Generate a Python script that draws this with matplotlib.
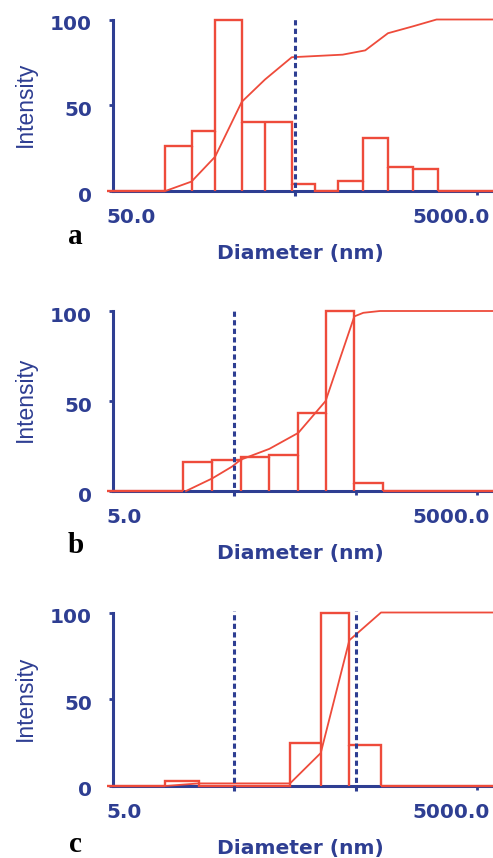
import numpy as np
import matplotlib.pyplot as plt
from matplotlib.transforms import ScaledTranslation

W, H = 493, 858
RED = "#ee4b3b"
BLUE = "#2e3e92"

# panel a: histogram bins (nm), intensities, cumulative curve
a_edges = [97, 136, 182, 256, 342, 481, 644, 862, 1183, 1621, 2221, 3043]
a_heights = [26, 35, 100, 40, 40, 4, 0, 6, 31, 14, 13]
a_cum_d = [97, 135, 182, 255, 342, 480, 914, 1216, 1621, 2221, 2998]
a_cum_pct = [0, 5.5, 20, 52, 65, 78, 79.5, 82, 92, 96, 100]
a_markers = [500]

# panel b
b_edges = [18.8, 32.9, 56.5, 97.2, 168.5, 283, 488, 836]
b_heights = [16.3, 17.4, 18.7, 20.2, 43.2, 100, 4.7]
b_cum_d = [20, 32.9, 48, 56.5, 97.2, 168.5, 283, 488, 579, 794]
b_cum_pct = [0, 7, 13.6, 17.4, 23.4, 32.3, 50, 97, 99, 100]
b_markers = [50]

# panel c
c_edges = [13.4, 25.6, 144, 258, 444, 810]
c_heights = [3, 0, 24.7, 100, 23.4]
c_cum_d = [13.4, 25.6, 144, 258, 444, 810]
c_cum_pct = [0, 1.5, 1.5, 19, 84, 100]
c_markers = [50, 500]

y_ticks = [0, 50, 100]
y_ticklabels = ["0", "50", "100"]


def draw(ax, edges, heights, cum_d, cum_pct, markers, xmin, xmax, px_dec,
         lo_label, hi_label, letter, letter_dy):
    ax.set_xscale("log")
    ax.set_xlim(xmin, xmax)
    ax.set_ylim(0, 100)

    # histogram outline, no bottom edges
    h = np.array(heights)
    ax.stairs(h, edges, color=RED, lw=1.7, baseline=0, zorder=3, clip_on=False)
    ax.vlines(edges[1:-1], 0, np.minimum(h[:-1], h[1:]), color=RED, lw=1.7, zorder=3)
    ax.hlines(0, xmin * 10 ** (-6 / px_dec), edges[0], color=RED, lw=1.7,
              zorder=3, clip_on=False)
    ax.hlines(0, edges[-1], xmax, color=RED, lw=1.7, zorder=3, clip_on=False)

    # cumulative curve
    ax.plot(list(cum_d) + [xmax], list(cum_pct) + [100], color=RED, lw=1.3,
            zorder=3, clip_on=False)

    ax.vlines(markers, -3, 101, colors=BLUE, lw=2.2, linestyles=(0, (1.7, 1.1)),
              zorder=4, clip_on=False)

    for s in ["top", "right"]:
        ax.spines[s].set_visible(False)
    for s in ["left", "bottom"]:
        ax.spines[s].set_color(BLUE)
        ax.spines[s].set_linewidth(2.2)

    dec = 10.0 ** np.arange(np.ceil(np.log10(xmin)), np.floor(np.log10(xmax)) + 1)
    ticks = [t * xmin / 10 ** np.floor(np.log10(xmin)) for t in dec]
    ax.set_xticks(ticks)
    ax.set_xticklabels([])
    ax.xaxis.set_minor_locator(plt.NullLocator())
    ax.tick_params(axis="x", length=3, width=2, color=BLUE, direction="out")

    ax.set_yticks(y_ticks)
    ax.set_yticklabels(y_ticklabels)
    ax.tick_params(axis="y", length=3, width=2, color=BLUE, pad=12,
                   labelsize=14.4, labelcolor=BLUE)
    shift = ScaledTranslation(0, -3 / 100, ax.figure.dpi_scale_trans)
    for t in ax.get_yticklabels():
        t.set_fontweight("bold")
        t.set_transform(t.get_transform() + shift)

    ax.annotate(lo_label, xy=(0, 0), xycoords="axes fraction", xytext=(-5, -19),
                textcoords="offset points", ha="left", va="center",
                fontsize=14.4, fontweight="bold", color=BLUE)
    ax.annotate(hi_label, xy=(1, 0), xycoords="axes fraction", xytext=(-2, -19),
                textcoords="offset points", ha="right", va="center",
                fontsize=14.4, fontweight="bold", color=BLUE)
    ax.annotate("Diameter (nm)", xy=(0.5, 0), xycoords="axes fraction",
                xytext=(-2, -45), textcoords="offset points", ha="center",
                va="center", fontsize=14.6, fontweight="bold", color=BLUE)
    ax.annotate("Intensity", xy=(0, 0.5), xycoords="axes fraction",
                xytext=(-63, 1), textcoords="offset points", ha="center",
                va="center", rotation=90, fontsize=16.5,
                family="Liberation Sans", color=BLUE)
    ax.annotate(letter, xy=(0, 0), xycoords="axes fraction",
                xytext=(-27, letter_dy), textcoords="offset points", ha="center",
                va="center", fontsize=21, fontweight="bold",
                family="Liberation Serif", color="black")


fig = plt.figure(figsize=(W / 100, H / 100), dpi=100)

panels = [
    # (top px, bottom px, data..., xmin, xmax, px per decade, labels, letter)
    (19.5, 191, a_edges, a_heights, a_cum_d, a_cum_pct, a_markers,
     50, 50 * 10 ** (380 / 182), 182, "50.0", "5000.0", "a", -33),
    (311, 491, b_edges, b_heights, b_cum_d, b_cum_pct, b_markers,
     5, 5 * 10 ** (380 / 121.3), 121.3, "5.0", "5000.0", "b", -39),
    (612.5, 786, c_edges, c_heights, c_cum_d, c_cum_pct, c_markers,
     5, 5 * 10 ** (380 / 121.3), 121.3, "5.0", "5000.0", "c", -42),
]

for top, bot, e, hh, cd, cp, mk, x0, x1, pd_, lo, hi, let, ldy in panels:
    ax = fig.add_axes([113 / W, 1 - bot / H, (W - 113) / W, (bot - top) / H])
    draw(ax, e, hh, cd, cp, mk, x0, x1, pd_, lo, hi, let, ldy)

fig.savefig("out.png", dpi=100)
